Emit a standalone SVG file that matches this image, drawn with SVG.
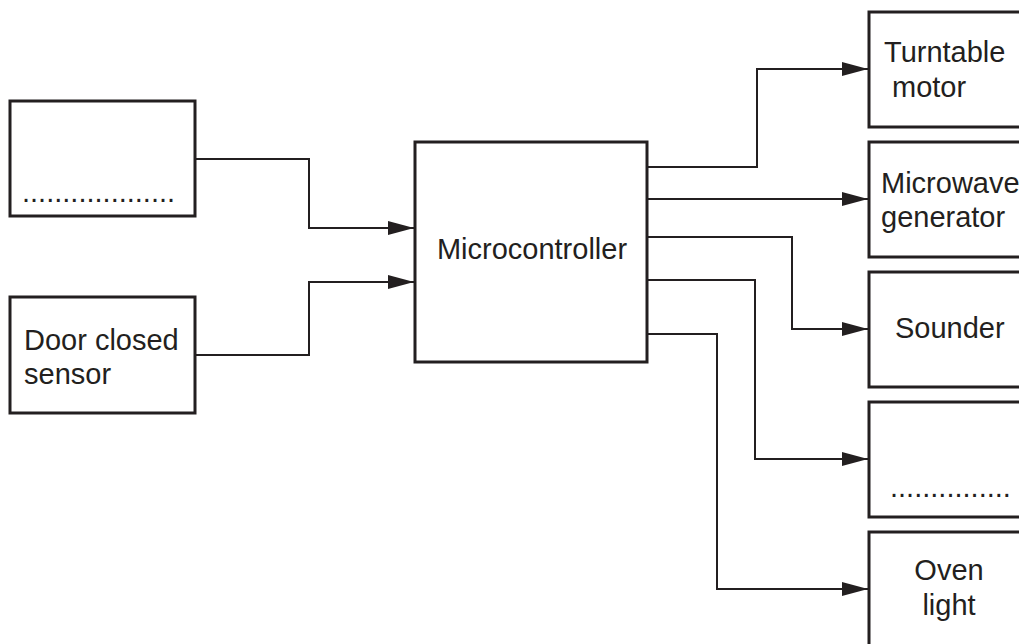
<svg xmlns="http://www.w3.org/2000/svg" width="1019" height="644" viewBox="0 0 1019 644">
<style>
.box{fill:#fff;stroke:#231f20;stroke-width:3}
.ln{fill:none;stroke:#231f20;stroke-width:2}
.t{font-family:"Liberation Sans",Arial,sans-serif;font-size:29px;fill:#231f20}
</style>
<defs>
<marker id="ah" markerUnits="userSpaceOnUse" markerWidth="27" markerHeight="15" refX="26" refY="7" orient="auto">
<path d="M0,0 L26,7 L0,14 z" fill="#231f20"/>
</marker>
</defs>
<rect width="1019" height="644" fill="#fff"/>
<g id="connectors">
<path class="ln" d="M195,159 H309 V228 H414" marker-end="url(#ah)"/>
<path class="ln" d="M195,355 H309 V282 H414" marker-end="url(#ah)"/>
<path class="ln" d="M647,167 H757 V69 H868" marker-end="url(#ah)"/>
<path class="ln" d="M647,199 H868" marker-end="url(#ah)"/>
<path class="ln" d="M647,237 H792 V329 H868" marker-end="url(#ah)"/>
<path class="ln" d="M647,280 H755 V459 H868" marker-end="url(#ah)"/>
<path class="ln" d="M647,334 H717 V589 H868" marker-end="url(#ah)"/>
</g>
<g id="input1">
<rect class="box" x="10" y="101" width="185" height="115"/>
<text class="t" x="22" y="202">...................</text>
</g>
<g id="door-sensor">
<rect class="box" x="10" y="297" width="185" height="116"/>
<text class="t" x="24" y="350">Door closed</text>
<text class="t" x="24" y="384">sensor</text>
</g>
<g id="microcontroller">
<rect class="box" x="415" y="142" width="232" height="220"/>
<text class="t" x="532" y="259" text-anchor="middle">Microcontroller</text>
</g>
<g id="turntable">
<rect class="box" x="869" y="12" width="200" height="115"/>
<text class="t" x="884" y="62">Turntable</text>
<text class="t" x="892" y="97">motor</text>
</g>
<g id="microwave">
<rect class="box" x="869" y="142" width="200" height="115"/>
<text class="t" x="881" y="193">Microwave</text>
<text class="t" x="881" y="227">generator</text>
</g>
<g id="sounder">
<rect class="box" x="869" y="272" width="200" height="115"/>
<text class="t" x="895" y="338">Sounder</text>
</g>
<g id="output4">
<rect class="box" x="869" y="402" width="200" height="115"/>
<text class="t" x="890" y="497">...............</text>
</g>
<g id="oven-light">
<rect class="box" x="869" y="532" width="200" height="130"/>
<text class="t" x="949" y="580" text-anchor="middle">Oven</text>
<text class="t" x="949" y="615" text-anchor="middle">light</text>
</g>
</svg>
